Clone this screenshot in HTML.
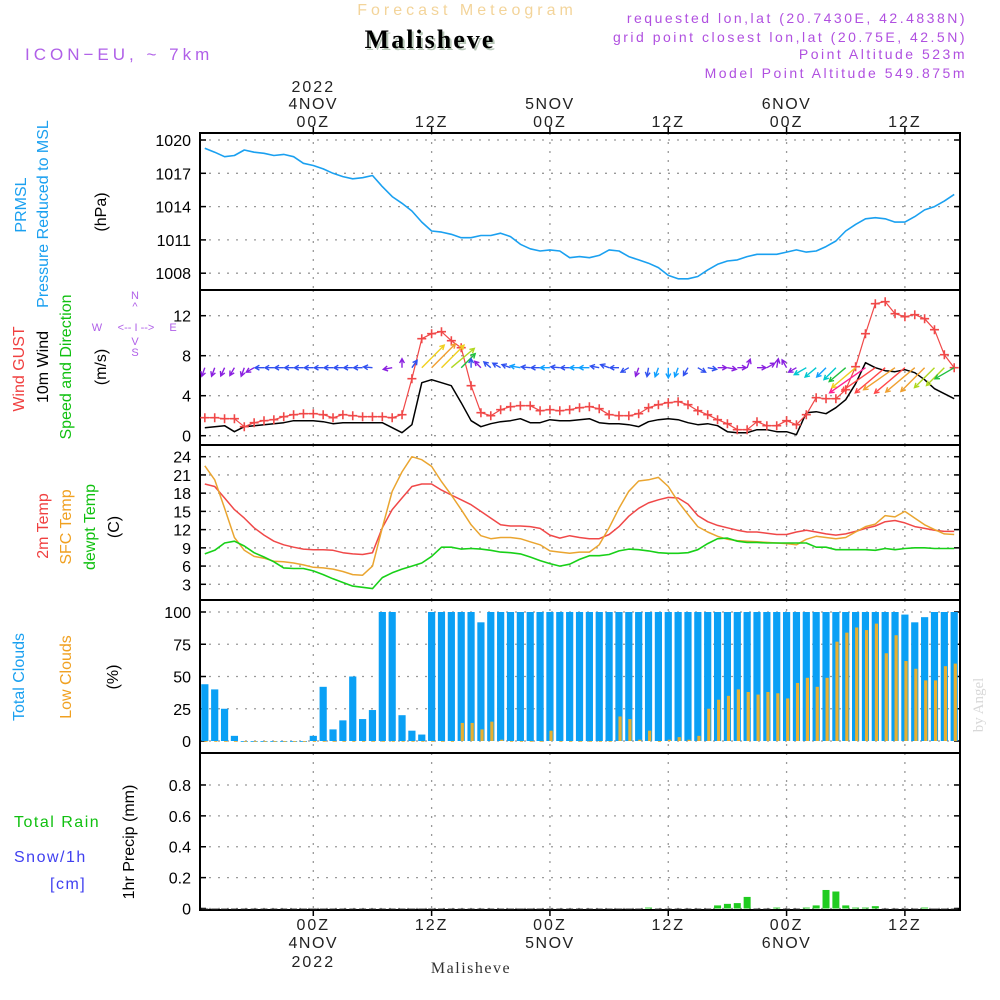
<!DOCTYPE html>
<html><head><meta charset="utf-8"><style>
html,body{margin:0;padding:0;background:#fff;}
svg{display:block;font-family:"Liberation Sans",sans-serif;}
</style></head><body>
<svg id="chart" width="1000" height="1000" viewBox="0 0 1000 1000" xmlns="http://www.w3.org/2000/svg">
<text x="467" y="15" font-size="16" fill="#f3d49a" text-anchor="middle" letter-spacing="4">Forecast Meteogram</text>
<text x="432" y="50" font-size="26" font-weight="bold" font-family="Liberation Serif,serif" fill="#b8c8b8" text-anchor="middle" letter-spacing="2">Malisheve</text>
<text x="430" y="48" font-size="26" font-weight="bold" font-family="Liberation Serif,serif" fill="#000" text-anchor="middle" letter-spacing="2">Malisheve</text>
<text x="25" y="60" font-size="17" fill="#b060e8" letter-spacing="4">ICON−EU, ~ 7km</text>
<g font-size="14" fill="#b050e0" text-anchor="end" letter-spacing="2.5">
<text x="967" y="23">requested lon,lat (20.7430E, 42.4838N)</text>
<text x="967" y="42">grid point closest lon,lat (20.75E, 42.5N)</text>
<text x="967" y="59">Point Altitude 523m</text>
<text x="967" y="78">Model Point Altitude 549.875m</text>
</g>
<g id="frame"></g>
<g id="marks"></g>
<g font-size="16">
<text transform="translate(26,205) rotate(-90)" fill="#1aa0f0" text-anchor="middle">PRMSL</text>
<text transform="translate(48,214) rotate(-90)" fill="#1aa0f0" text-anchor="middle">Pressure Reduced to MSL</text>
<text transform="translate(106,212) rotate(-90)" fill="#000" text-anchor="middle">(hPa)</text>
<text transform="translate(24,369) rotate(-90)" fill="#f04040" text-anchor="middle">Wind GUST</text>
<text transform="translate(48,367) rotate(-90)" fill="#000" text-anchor="middle">10m Wind</text>
<text transform="translate(71,367) rotate(-90)" fill="#10c010" text-anchor="middle">Speed and Direction</text>
<text transform="translate(106,367) rotate(-90)" fill="#000" text-anchor="middle">(m/s)</text>
<text transform="translate(48,526) rotate(-90)" fill="#f04040" text-anchor="middle">2m Temp</text>
<text transform="translate(71,527) rotate(-90)" fill="#f0a020" text-anchor="middle">SFC Temp</text>
<text transform="translate(95,527) rotate(-90)" fill="#10c010" text-anchor="middle">dewpt Temp</text>
<text transform="translate(119,527) rotate(-90)" fill="#000" text-anchor="middle">(C)</text>
<text transform="translate(24,677) rotate(-90)" fill="#1aa0f0" text-anchor="middle">Total Clouds</text>
<text transform="translate(71,677) rotate(-90)" fill="#f0a020" text-anchor="middle">Low Clouds</text>
<text transform="translate(118,677) rotate(-90)" fill="#000" text-anchor="middle">(%)</text>
<text x="14" y="827" fill="#10c010" letter-spacing="1.5">Total  Rain</text>
<text x="14" y="862" fill="#4040f0" letter-spacing="1.5">Snow/1h</text>
<text x="50" y="889" fill="#4040f0" letter-spacing="1.5">[cm]</text>
<text transform="translate(134,842) rotate(-90)" fill="#000" text-anchor="middle">1hr Precip (mm)</text>
</g>
<g font-size="11" fill="#b060e8" text-anchor="middle">
<text x="135" y="299">N</text><text x="135" y="310">^</text>
<text x="97" y="331">W</text><text x="136" y="331">&lt;-- I --&gt;</text><text x="173" y="331">E</text>
<text x="135" y="345">V</text><text x="135" y="356">S</text>
</g>
<text transform="translate(983,705) rotate(-90)" font-size="15" font-family="Liberation Serif,serif" fill="#d8d8d8" text-anchor="middle">by Angel</text>
<text x="471" y="973" font-size="16" font-family="Liberation Serif,serif" fill="#333" text-anchor="middle" letter-spacing="1.5">Malisheve</text>
</svg>
<script>
const hours = [];
for (let h = -11; h <= 66; h++) hours.push(h);
const pressure = [1019.26,1018.9,1018.5,1018.6,1019.1,1018.9,1018.8,1018.6,1018.7,1018.5,1017.9,1017.7,1017.4,1017.0,1016.7,1016.5,1016.6,1016.8,1015.8,1014.9,1014.3,1013.6,1012.6,1011.8,1011.7,1011.5,1011.2,1011.2,1011.4,1011.4,1011.6,1011.3,1010.6,1010.2,1010.0,1010.1,1010.0,1009.4,1009.5,1009.4,1009.6,1010.1,1010.0,1009.5,1009.2,1008.9,1008.5,1007.8,1007.5,1007.5,1007.7,1008.3,1008.8,1009.1,1009.2,1009.5,1009.7,1009.7,1009.7,1009.9,1010.1,1009.9,1010.0,1010.4,1010.9,1011.8,1012.4,1012.9,1013.0,1012.9,1012.6,1012.6,1013.1,1013.7,1014.0,1014.5,1015.1];
const gust = [1.8,1.8,1.7,1.7,0.9,1.3,1.5,1.6,1.9,2.1,2.2,2.2,2.1,1.8,2.1,2.0,1.9,1.9,1.9,1.8,2.1,5.7,9.7,10.2,10.4,9.5,8.8,5.0,2.3,2.0,2.6,2.9,3.0,3.0,2.5,2.6,2.5,2.6,2.8,2.9,2.7,2.1,2.0,2.0,2.2,2.8,3.1,3.3,3.4,3.1,2.5,2.1,1.6,1.2,0.6,0.6,1.4,1.0,1.0,1.5,1.1,2.1,3.8,3.7,3.7,4.6,6.9,10.2,13.2,13.4,12.2,11.9,12.1,11.7,10.6,8.1,6.8];
const wind10 = [0.8,0.9,1.0,0.4,0.9,1.0,1.1,1.2,1.3,1.5,1.5,1.5,1.4,1.2,1.3,1.3,1.3,1.3,1.3,0.8,0.3,1.1,5.3,5.6,5.3,5.0,3.3,1.5,0.9,1.2,1.4,1.5,1.7,1.3,1.3,1.6,1.5,1.5,1.6,1.7,1.3,1.2,1.2,1.1,0.9,1.4,1.6,1.7,1.6,1.3,1.1,1.2,1.0,0.4,0.3,0.3,0.6,0.6,0.4,0.4,0.1,2.3,2.4,2.2,2.8,3.6,5.2,7.3,6.8,6.5,6.4,6.6,6.3,5.6,4.7,4.2,3.7];
const windDir = [20,20,25,30,20,60,90,90,90,90,90,90,90,90,90,90,90,95,null,80,180,215,225,225,225,230,225,180,135,130,120,110,100,95,90,90,95,90,90,90,100,110,90,60,20,10,20,0,20,30,300,280,270,280,270,200,270,240,190,150,60,60,50,45,45,50,50,55,55,50,55,50,50,45,45,45,60];
const temp2m = [19.5,19.1,17.2,15.3,13.9,12.3,11.1,10.1,9.5,9.1,8.8,8.7,8.7,8.6,8.2,8.0,7.9,8.2,12.3,15.3,17.2,19.1,19.5,19.5,18.5,17.7,16.9,16.1,15.0,13.9,12.8,12.6,12.6,12.5,12.2,11.1,10.6,11.0,10.7,10.5,10.5,11.2,12.5,14.2,15.5,16.4,16.9,17.3,17.2,16.2,14.3,13.3,12.7,12.3,11.9,11.6,11.6,11.4,11.2,11.2,11.6,11.9,11.6,11.3,11.1,11.3,11.7,12.2,12.6,13.3,13.5,13.1,12.5,12.2,11.9,11.7,11.7];
const tempSfc = [22.5,20.2,15.5,10.7,8.6,7.6,7.3,6.8,6.7,6.5,6.2,5.8,5.7,5.5,5.1,4.6,4.5,6.0,12.3,18.3,21.5,24.0,23.5,22.4,19.9,17.7,15.3,12.8,11.0,10.5,10.7,10.7,10.5,10.0,9.5,8.5,8.3,8.1,8.3,8.3,9.5,12.3,15.5,18.3,20.0,20.2,20.6,19.1,16.6,14.5,12.5,11.6,10.9,10.4,10.2,10.1,10.0,9.9,9.8,9.7,9.5,10.4,10.9,10.7,10.5,10.7,11.6,12.5,12.9,14.3,14.1,15.0,13.9,12.8,12.0,11.3,11.2];
const dewpt = [8.0,8.6,9.8,10.1,9.3,8.2,7.5,6.7,5.7,5.6,5.6,5.2,4.6,3.9,3.3,2.7,2.5,2.3,4.1,4.9,5.5,6.0,6.5,7.6,9.1,9.1,8.8,8.9,8.8,8.6,8.3,8.2,8.0,7.5,6.9,6.4,6.0,6.3,7.1,7.7,7.7,7.9,8.5,8.8,8.7,8.5,8.2,8.1,8.1,8.2,8.7,9.7,10.5,10.6,10.1,9.9,9.9,9.8,9.8,9.8,9.8,9.8,9.1,9.1,8.7,8.7,8.7,8.7,8.6,8.9,8.7,8.9,9.0,9.0,8.9,8.9,8.9];
const totalCloud = [44,40,25,4,0,0,0,0,0,0,0,4,42,9,16,50,17,24,100,100,20,8,5,100,100,100,100,100,92,100,100,100,100,100,100,100,100,100,100,100,100,100,100,100,100,100,100,100,100,100,100,100,100,100,100,100,100,100,100,100,100,100,100,100,100,100,100,100,100,100,100,98,92,96,100,100,100,91];
const lowCloud = [0,0,0,0,0,0,0,0,0,0,0,0,0,0,0,0,0,0,0,0,0,0,0,0,0,0,14,14,9,15,1,0,0,0,0,8,0,0,0,0,0,0,19,17,1,8,0,1,3,1,4,25,32,35,40,38,36,38,37,33,45,49,42,49,77,84,88,86,91,68,82,62,56,47,47,58,60,60];
const precip = [0,0,0,0,0,0,0,0,0,0,0,0,0,0,0,0,0,0,0,0,0,0,0,0,0,0,0,0,0,0,0,0,0,0,0,0,0,0,0,0,0,0,0,0,0,0.006,0,0,0,0,0,0,0.02,0.03,0.035,0.075,0,0,0.006,0,0,0.006,0.02,0.12,0.11,0.02,0.006,0.006,0.015,0,0,0,0,0.006,0,0,0,0];
const pTicks = [1008,1011,1014,1017,1020];
const wTicks = [0,4,8,12];
const tTicks = [3,6,9,12,15,18,21,24];
const cTicks = [0,25,50,75,100];
const rTicks = [0,0.2,0.4,0.6,0.8];
const timeGrid = [0,12,24,36,48,60];
const timeLabels = ["00Z","12Z","00Z","12Z","00Z","12Z"];
const dayLabels = ["4NOV","","5NOV","","6NOV",""];

const NS = "http://www.w3.org/2000/svg";
const L = 200, R = 960;
const X = t => 313.3 + 9.86 * t;
const yP = p => 140 + (1020 - p) * 11.1;
const yW = w => 435.7 - 10 * w;
const yT = v => 584.3 - (v - 3) * 6.076;
const yC = c => 741 - c * 1.29;
const yR = r => 908.5 - r * 154.4;
const panels = [[133,290,pTicks,yP,v=>String(v)],[290,445,wTicks,yW,v=>String(v)],[445,600,tTicks,yT,v=>String(v)],[600,753,cTicks,yC,v=>String(v)],[753,910,rTicks,yR,v=>v===0?"0":v.toFixed(1)]];
const frame = document.getElementById('frame');
const marks = document.getElementById('marks');
function mk(tag, attrs, parent) {
  const e = document.createElementNS(NS, tag);
  for (const k in attrs) e.setAttribute(k, attrs[k]);
  (parent || marks).appendChild(e);
  return e;
}
const defs = mk('defs', {}, frame);
const cp = mk('clipPath', {id: 'plotclip'}, defs);
mk('rect', {x: L, y: 133, width: R - L, height: 777}, cp);
marks.setAttribute('clip-path', 'url(#plotclip)');

const panelNames = ['pressure-panel','wind-panel','temperature-panel','cloud-panel','precip-panel'];
panels.forEach((p, i) => {
  const [top, bot, ticks, fy, fmt] = p;
  const g = mk('g', {}, frame);
  
  
  ticks.forEach(v => {
    const y = fy(v);
    const gl = mk('line', {x1: L, x2: R, y1: y, y2: y, stroke: '#999', 'stroke-width': 1.3, 'stroke-dasharray': '2,7'}, g);
    
    
    mk('line', {x1: L, x2: L + 6, y1: y, y2: y, stroke: '#000', 'stroke-width': 1.5}, g);
    mk('line', {x1: R - 6, x2: R, y1: y, y2: y, stroke: '#000', 'stroke-width': 1.5}, g);
    const tx = mk('text', {x: 191, y: y + 6, 'font-size': 16, 'text-anchor': 'end', fill: '#000'}, g);
    tx.textContent = fmt(v);
    
    
  });
  timeGrid.forEach(t => {
    const x = X(t);
    const vl = mk('line', {x1: x, x2: x, y1: top, y2: bot, stroke: '#999', 'stroke-width': 1.3, 'stroke-dasharray': '2,7'}, g);
    
    
  });
  mk('rect', {x: L, y: top, width: R - L, height: bot - top, fill: 'none', stroke: '#000', 'stroke-width': 2}, g);
});
timeGrid.forEach((t, i) => {
  const x = X(t);
  mk('line', {x1: x, x2: x, y1: 133, y2: 127, stroke: '#000', 'stroke-width': 1.5}, frame);
  mk('line', {x1: x, x2: x, y1: 910, y2: 916, stroke: '#000', 'stroke-width': 1.5}, frame);
  const a = mk('text', {x: x, y: 127, 'font-size': 16, 'text-anchor': 'middle', fill: '#222', 'letter-spacing': 2}, frame);
  a.textContent = timeLabels[i];
  
  
  const b = mk('text', {x: x, y: 930, 'font-size': 16, 'text-anchor': 'middle', fill: '#222', 'letter-spacing': 2}, frame);
  b.textContent = timeLabels[i];
  
  
  if (dayLabels[i]) {
    const c = mk('text', {x: x, y: 109, 'font-size': 16, 'text-anchor': 'middle', fill: '#222', 'letter-spacing': 1.5}, frame);
    c.textContent = dayLabels[i];
    
    
    const d = mk('text', {x: x, y: 948, 'font-size': 16, 'text-anchor': 'middle', fill: '#222', 'letter-spacing': 1.5}, frame);
    d.textContent = dayLabels[i];
    
    
  }
});
const yr1 = mk('text', {x: X(0), y: 92, 'font-size': 16, 'text-anchor': 'middle', fill: '#222', 'letter-spacing': 2}, frame);
yr1.textContent = '2022';


const yr2 = mk('text', {x: X(0), y: 967, 'font-size': 16, 'text-anchor': 'middle', fill: '#222', 'letter-spacing': 2}, frame);
yr2.textContent = '2022';



function line(arr, fy, color, name, w) {
  const pts = arr.map((v, i) => v == null ? null : X(hours[i]).toFixed(1) + ',' + fy(v).toFixed(1)).filter(Boolean).join(' ');
  const pl = mk('polyline', {points: pts, fill: 'none', stroke: color, 'stroke-width': w || 1.5, 'stroke-linejoin': 'round'});
  
  
}
totalCloud.forEach((v, i) => {
  const x = X(hours[i]);
  const r = mk('rect', {x: x - 3.6, y: yC(v), width: 7.2, height: Math.max(0.8, yC(0) - yC(v)), fill: '#0aa0f5'});
  
  
});
lowCloud.forEach((v, i) => {
  const x = X(hours[i]);
  const r = mk('rect', {x: x - 0.5, y: yC(v), width: 3.2, height: Math.max(0.8, yC(0) - yC(v)), fill: '#e8b030'});
  
  
});
precip.forEach((v, i) => {
  const x = X(hours[i]);
  const r = mk('rect', {x: x - 3.5, y: yR(v), width: 7, height: Math.max(0.8, yR(0) - yR(v)), fill: v > 0 ? '#20cc20' : '#444'});
  
  
});
line(pressure, yP, '#1aa0f0', 'pressure-line', 1.6);
line(temp2m, yT, '#f04848', 'temp-2m-line', 1.5);
line(tempSfc, yT, '#eaa530', 'temp-sfc-line', 1.5);
line(dewpt, yT, '#18d018', 'dewpoint-line', 1.6);
line(wind10, yW, '#000', 'wind-10m-line', 1.5);
line(gust, yW, '#f04848', 'gust-line', 1.2);
gust.forEach((v, i) => {
  const x = X(hours[i]), y = yW(v);
  const c = mk('path', {d: `M${x-4.5},${y}H${x+4.5}M${x},${y-4.5}V${y+4.5}`, stroke: '#f04848', 'stroke-width': 1.6});
  
  
});
function spdColor(s) {
  if (s <= 1.0) return '#8a20e0';
  if (s <= 1.5) return '#3050f0';
  if (s <= 2.2) return '#10a0ff';
  if (s <= 3.0) return '#00c8d0';
  if (s <= 4.0) return '#20c040';
  if (s <= 5.0) return '#b0d820';
  if (s <= 5.4) return '#f0d020';
  if (s <= 6.4) return '#f0a030';
  if (s <= 7.0) return '#ff4848';
  return '#ff2090';
}
windDir.forEach((d, i) => {
  if (d == null) return;
  const s = wind10[i];
  const len = Math.max(9, 6 * s);
  const rad = d * Math.PI / 180;
  const x0 = X(hours[i]), y0 = yW(6.8);
  const dx = -Math.sin(rad) * len, dy = Math.cos(rad) * len;
  const x1 = x0 + dx, y1 = y0 + dy;
  const ang = Math.atan2(dy, dx);
  const h = 5;
  const a1x = x1 - h * Math.cos(ang - 0.5), a1y = y1 - h * Math.sin(ang - 0.5);
  const a2x = x1 - h * Math.cos(ang + 0.5), a2y = y1 - h * Math.sin(ang + 0.5);
  const p = mk('path', {d: `M${x0.toFixed(1)},${y0.toFixed(1)}L${x1.toFixed(1)},${y1.toFixed(1)}M${a1x.toFixed(1)},${a1y.toFixed(1)}L${x1.toFixed(1)},${y1.toFixed(1)}L${a2x.toFixed(1)},${a2y.toFixed(1)}`, stroke: spdColor(s), 'stroke-width': 1.4, fill: 'none'});
  
  
});
</script>
</body></html>
